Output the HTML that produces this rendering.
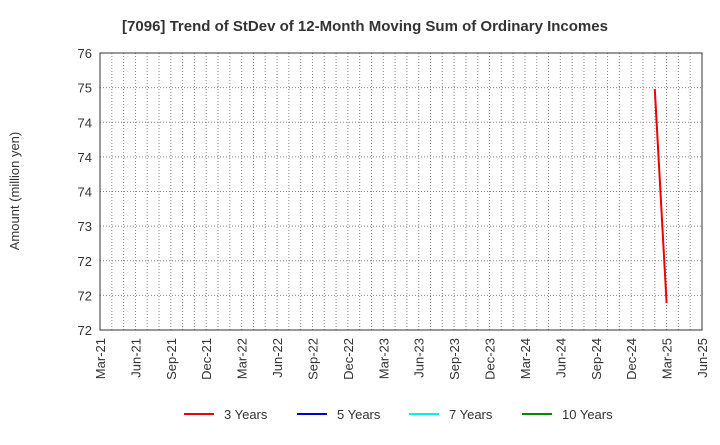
<!DOCTYPE html>
<html><head><meta charset="utf-8"><style>
body{margin:0;background:#fff;font-family:"Liberation Sans",sans-serif}
</style></head><body>
<svg id="c" width="720" height="440" xmlns="http://www.w3.org/2000/svg">
<text x="365" y="31" text-anchor="middle" font-size="15" font-weight="bold" fill="#333">[7096]  Trend of StDev of 12-Month Moving Sum of Ordinary Incomes</text>
<text transform="translate(19,191) rotate(-90)" text-anchor="middle" font-size="13" fill="#333">Amount (million yen)</text>
<g id="grid"></g><g id="axes"></g><g id="series"></g><g id="legend"></g>
</svg>
<script>
const yTickLabels=["72","72","72","73","74","74","74","75","76"];
const yMin=71.6, yMax=75.6;
const xTickLabels=["Mar-21","Jun-21","Sep-21","Dec-21","Mar-22","Jun-22","Sep-22","Dec-22","Mar-23","Jun-23","Sep-23","Dec-23","Mar-24","Jun-24","Sep-24","Dec-24","Mar-25","Jun-25"];
const months3y=[47,48];
const values3y=[75.08,71.99];
const seriesNames=["3 Years","5 Years","7 Years","10 Years"];
const seriesColors=["#e00","#00c","#0ee","#080"];
const L=100,R=702,T=53,B=330,NM=51;
const NS="http://www.w3.org/2000/svg";
const xs=m=>L+m*(R-L)/NM;
const ys=v=>B-(v-yMin)/(yMax-yMin)*(B-T);
function mk(t,a,p){const e=document.createElementNS(NS,t);for(const k in a)e.setAttribute(k,a[k]);p.appendChild(e);return e;}
const grid=document.getElementById('grid'),axes=document.getElementById('axes'),ser=document.getElementById('series'),leg=document.getElementById('legend');
for(let m=1;m<NM;m++){const l=mk('line',{x1:xs(m),x2:xs(m),y1:T,y2:B,stroke:'#888','stroke-dasharray':'1,2','stroke-width':1},grid);

}
yTickLabels.forEach((t,i)=>{const y=B-i*(B-T)/(yTickLabels.length-1);
if(i>0&&i<yTickLabels.length-1){const g=mk('line',{x1:L,x2:R,y1:y,y2:y,stroke:'#888','stroke-dasharray':'1,2'},grid);

}
const tx=mk('text',{x:92,y:y+5,'text-anchor':'end','font-size':13,fill:'#333'},axes);tx.textContent=t;

});
xTickLabels.forEach((t,i)=>{const x=xs(i*3);
const tx=mk('text',{transform:`translate(${x+5},338) rotate(-90)`,'text-anchor':'end','font-size':13,fill:'#333'},axes);tx.textContent=t;

});
const fr=mk('rect',{x:L,y:T,width:R-L,height:B-T,fill:'none',stroke:'#333'},axes);


const pl=mk('polyline',{points:months3y.map((m,i)=>xs(m)+','+ys(values3y[i])).join(' '),fill:'none',stroke:'#e00','stroke-width':2},ser);


const lx=[184,297,409,522];
seriesNames.forEach((n,i)=>{const g=mk('g',{},leg);


mk('line',{x1:lx[i],x2:lx[i]+30,y1:414,y2:414,stroke:seriesColors[i],'stroke-width':2},g);
const t=mk('text',{x:lx[i]+40,y:419,'font-size':13,fill:'#333'},g);t.textContent=n;});
</script>
</body></html>
